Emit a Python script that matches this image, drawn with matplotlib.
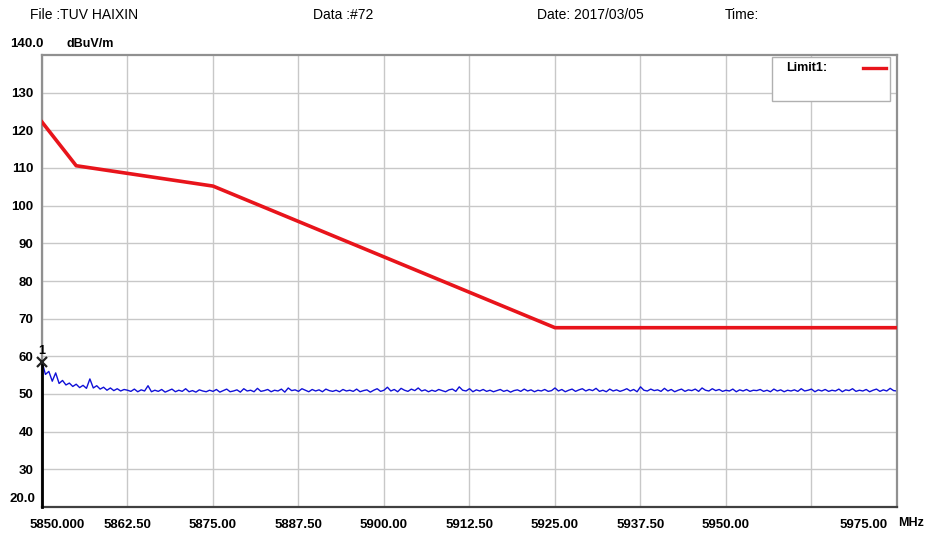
import numpy as np
import matplotlib
matplotlib.use("Agg")
import matplotlib.pyplot as plt

plt.rcParams['font.family'] = ['Liberation Sans', 'DejaVu Sans']

# limit line (dBuV/m)
limit_freq = [5850.0, 5855.0, 5875.0, 5925.0, 5975.0]
limit_level = [122.2, 110.6, 105.2, 67.6, 67.6]

# measured trace, 0.5 MHz steps from 5850 to 5975
trace = [
    58.6, 55.2, 56.0, 53.4, 55.6, 52.8, 53.6, 52.4, 52.9, 52.0,
    52.6, 51.7, 52.3, 51.5, 54.0, 51.6, 52.2, 51.3, 51.8, 51.0,
    51.6, 50.9, 51.4, 50.8, 51.2, 51.0, 50.7, 51.3, 50.6, 51.1,
    50.8, 52.2, 50.6, 51.0, 50.7, 51.2, 50.5, 50.9, 51.3, 50.6,
    51.0, 50.7, 51.4, 50.6, 50.9, 50.5, 51.1, 50.8, 50.6, 51.0,
    50.7, 51.2, 50.5, 50.9, 51.3, 50.6, 50.8, 51.1, 50.5, 51.4,
    50.8, 51.0, 50.6, 51.5, 50.7, 50.9, 51.2, 50.6, 51.0, 50.8,
    51.3, 50.5, 51.6, 50.9, 51.1, 50.7, 51.4, 51.0, 50.6, 51.2,
    50.8, 51.1, 50.6, 51.3, 50.9, 50.7, 51.0, 50.6, 51.2, 50.8,
    51.0, 50.7, 51.3, 50.6, 50.9, 51.1, 50.5, 51.0, 51.4, 50.7,
    51.0, 51.8, 50.8, 51.2, 50.6, 51.5, 51.0, 50.7, 51.3, 50.9,
    51.6, 50.8, 51.1, 50.6, 51.0, 50.7, 51.2, 50.9, 50.6, 51.1,
    51.3, 50.7, 51.9, 51.0, 50.8, 51.4, 50.6, 51.1, 50.8, 51.2,
    50.7, 51.0, 50.6, 50.9, 51.2, 50.7, 51.0, 50.5, 50.9, 51.1,
    50.7, 51.3, 50.8, 51.1, 50.6, 51.0, 50.8, 51.2, 50.7, 50.9,
    51.6, 50.8, 51.2, 50.6, 51.0, 51.3, 50.7, 51.1, 51.4, 50.8,
    51.2, 50.9, 51.5, 50.7, 51.0, 50.6, 51.3, 50.8, 51.1, 50.7,
    51.0, 51.4, 50.8, 51.2, 50.6, 51.9, 51.0, 50.8, 51.3, 50.9,
    51.1, 50.7, 51.5, 50.8, 51.2, 50.6, 51.0, 51.3, 50.7, 51.1,
    50.9, 51.3, 50.7, 51.6, 51.0, 50.8, 51.4, 50.9, 51.2, 50.7,
    51.0, 50.8, 51.3, 50.6, 51.1, 50.8, 51.2, 50.7, 51.0, 50.9,
    51.2, 50.7, 51.0, 50.6, 51.3, 50.8, 51.1, 50.6, 51.0, 50.8,
    51.1, 50.7, 51.4, 50.8, 51.0, 51.3, 50.6, 51.1, 50.8, 51.2,
    50.7, 51.0, 50.8, 51.3, 50.6, 51.1, 50.9, 51.4, 50.7, 51.0,
    50.8, 51.2, 50.6, 51.0, 51.3, 50.7, 51.1, 50.8, 51.5, 50.9,
    50.8,
]
trace_freq = np.linspace(5850.0, 5975.0, len(trace))

marker_freq = 5850.0
marker_level = 58.6

x_ticks = [5850.0, 5862.5, 5875.0, 5887.5, 5900.0, 5912.5, 5925.0,
           5937.5, 5950.0, 5962.5, 5975.0]
x_labels = ["", "5862.50", "5875.00", "5887.50", "5900.00", "5912.50",
            "5925.00", "5937.50", "5950.00", "", ""]
y_ticks = [30, 40, 50, 60, 70, 80, 90, 100, 110, 120, 130]

fig = plt.figure(figsize=(9.28, 5.35), dpi=100)
ax = fig.add_axes([42 / 928, 28 / 535, 855 / 928, 452 / 535])

ax.plot(limit_freq, limit_level, color='#e8141b', lw=2.6, zorder=3)
ax.plot(trace_freq, trace, color='#1010d8', lw=1.0, zorder=2)

# marker 1
ax.plot([marker_freq, marker_freq], [20, marker_level], color='black', lw=2, zorder=4, clip_on=False)
ax.plot(marker_freq, marker_level, marker='x', color='#222222', ms=7, mew=1.6, zorder=5, clip_on=False)
ax.text(marker_freq, marker_level + 1.2, "1", fontsize=9, fontweight='bold', ha='center', va='bottom')

ax.set_xlim(5850, 5975)
ax.set_ylim(20, 140)
ax.set_xticks(x_ticks)
ax.set_xticklabels(x_labels)
ax.set_yticks(y_ticks)
ax.grid(True, color='#c8c8c8', lw=1)
ax.set_axisbelow(True)
ax.tick_params(length=0, labelsize=9.5)
ax.tick_params(axis='x', pad=9)
ax.tick_params(axis='y', pad=6)
for lab in ax.get_xticklabels() + ax.get_yticklabels():
    lab.set_fontweight('bold')

for side in ['top', 'right', 'left']:
    ax.spines[side].set_color('#909090')
    ax.spines[side].set_linewidth(1.6)
ax.spines['bottom'].set_color('#404040')
ax.spines['bottom'].set_linewidth(1.6)

# end labels outside the normal ticks
ly = -0.026
ax.text(-0.014, ly, "5850.000", transform=ax.transAxes, fontsize=9.5, fontweight='bold', ha='left', va='top')
ax.text(0.9895, ly, "5975.00", transform=ax.transAxes, fontsize=9.5, fontweight='bold', ha='right', va='top')
fig.text(898 / 928, 1 - 517 / 535, "MHz", fontsize=9, fontweight='bold', ha='left', va='top')
fig.text(10 / 928, 1 - 44 / 535, "140.0", fontsize=9.5, fontweight='bold', ha='left', va='center')
fig.text(67 / 928, 1 - 44 / 535, "dBuV/m", fontsize=9, fontweight='bold', ha='left', va='center')
fig.text(10 / 928, 1 - 499 / 535, "20.0", fontsize=9.5, fontweight='bold', ha='left', va='center')

# header
hy = 1 - 15 / 535
fig.text(30 / 928, hy, "File :TUV HAIXIN", fontsize=10, ha='left', va='center')
fig.text(313 / 928, hy, "Data :#72", fontsize=10, ha='left', va='center')
fig.text(537 / 928, hy, "Date: 2017/03/05", fontsize=10, ha='left', va='center')
fig.text(725 / 928, hy, "Time:", fontsize=10, ha='left', va='center')

# legend box
lx0, lx1 = 772 / 928, 890 / 928
ly0, ly1 = 1 - 101 / 535, 1 - 57 / 535
box = plt.Rectangle((lx0, ly0), lx1 - lx0, ly1 - ly0, transform=fig.transFigure,
                    facecolor='white', edgecolor='#b0b0b0', lw=1, zorder=10)
fig.add_artist(box)
fig.text(786 / 928, 1 - 68 / 535, "Limit1:", fontsize=9, fontweight='bold', ha='left', va='center', zorder=11)
fig.add_artist(plt.Line2D([863 / 928, 886 / 928], [1 - 68 / 535, 1 - 68 / 535],
                          transform=fig.transFigure, color='#e8141b', lw=2.4, zorder=11))

fig.savefig("out.png", dpi=100)
